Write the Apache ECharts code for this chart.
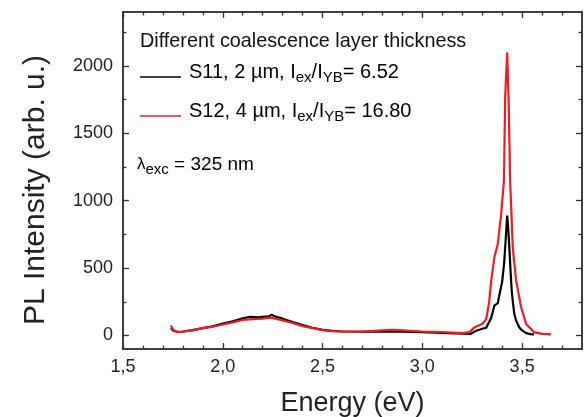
<!DOCTYPE html>
<html>
<head>
<meta charset="utf-8">
<script src="https://cdn.jsdelivr.net/npm/echarts@6/dist/echarts.min.js"></script>
<style>html,body{margin:0;padding:0;background:#fff}#c{width:585px;height:417px}</style>
</head>
<body>
<div id="c"></div>
<script>
// ---- data ----
const s11Energy = [1.74, 1.75, 1.77, 1.80, 1.85, 1.90, 1.95, 2.00, 2.05, 2.10, 2.14, 2.18, 2.21, 2.23, 2.245, 2.26, 2.30, 2.35, 2.40, 2.45, 2.50, 2.55, 2.60, 2.70, 2.80, 2.90, 3.00, 3.10, 3.20, 3.24, 3.27, 3.30, 3.32, 3.345, 3.361, 3.37, 3.378, 3.386, 3.40, 3.41, 3.418, 3.425, 3.43, 3.436, 3.442, 3.448, 3.455, 3.461, 3.47, 3.486, 3.50, 3.52, 3.54, 3.56];
const s11Intensity = [55, 38, 28, 30, 40, 55, 68, 88, 105, 128, 138, 135, 140, 140, 155, 142, 125, 100, 78, 58, 42, 35, 30, 28, 30, 28, 25, 20, 14, 12, 35, 50, 58, 130, 222, 230, 240, 300, 400, 540, 720, 889, 800, 650, 480, 330, 230, 160, 110, 60, 38, 18, 10, 8];
const s12Energy = [1.74, 1.75, 1.77, 1.80, 1.85, 1.90, 1.95, 2.00, 2.05, 2.10, 2.15, 2.20, 2.24, 2.28, 2.32, 2.36, 2.40, 2.45, 2.50, 2.55, 2.60, 2.70, 2.80, 2.85, 2.90, 3.00, 3.10, 3.20, 3.236, 3.262, 3.30, 3.32, 3.335, 3.345, 3.361, 3.378, 3.395, 3.409, 3.415, 3.425, 3.432, 3.44, 3.453, 3.47, 3.495, 3.52, 3.56, 3.60, 3.645];
const s12Intensity = [74, 45, 25, 28, 40, 55, 65, 82, 98, 115, 122, 125, 133, 120, 104, 88, 70, 55, 40, 33, 30, 30, 38, 42, 38, 30, 25, 18, 25, 62, 86, 120, 250, 407, 580, 679, 901, 1148, 1765, 2099, 1765, 1148, 654, 407, 210, 86, 25, 12, 8];
const xTicks = [1.5, 2.0, 2.5, 3.0, 3.5];
const xMinorTicks = [1.6, 1.7, 1.8, 1.9, 2.1, 2.2, 2.3, 2.4, 2.6, 2.7, 2.8, 2.9, 3.1, 3.2, 3.3, 3.4, 3.6, 3.7];
const yTicks = [0, 500, 1000, 1500, 2000];
const yMinorTicks = [250, 750, 1250, 1750, 2250];
const xRange = [1.5, 3.8];
const yRange = [-100, 2400];

const pairs = (xs, ys) => xs.map((x, i) => [x, ys[i]]);
const AX = '#333';
const chart = echarts.init(document.getElementById('c'), null, {renderer: 'canvas'});

function xAxisDef(pos, ticks, len, labels) {
  return {
    type: 'value', min: xRange[0], max: xRange[1], position: pos,
    axisLine: {show: true, onZero: false, lineStyle: {color: AX, width: 1.5}},
    axisTick: {show: true, inside: true, length: len, customValues: ticks, lineStyle: {color: AX, width: 1.3}},
    axisLabel: labels ? {show: true, customValues: ticks, formatter: v => v.toFixed(1).replace('.', ','), color: '#222', fontSize: 18, fontFamily: 'Liberation Sans', margin: 9} : {show: false},
    splitLine: {show: false},
    name: labels ? 'Energy (eV)' : '', nameLocation: 'middle', nameGap: 41,
    nameTextStyle: {fontSize: 27, color: '#222', fontFamily: 'Liberation Sans'}
  };
}
function yAxisDef(pos, ticks, len, labels) {
  return {
    type: 'value', min: yRange[0], max: yRange[1], position: pos,
    axisLine: {show: true, onZero: false, lineStyle: {color: AX, width: 1.5}},
    axisTick: {show: true, inside: true, length: len, customValues: ticks, lineStyle: {color: AX, width: 1.3}},
    axisLabel: labels ? {show: true, customValues: ticks, formatter: v => String(v), color: '#222', fontSize: 18, fontFamily: 'Liberation Sans', margin: 10} : {show: false},
    splitLine: {show: false},
    name: labels ? 'PL Intensity (arb. u.)' : '', nameLocation: 'middle', nameGap: 72, nameRotate: 90,
    nameTextStyle: {fontSize: 30, color: '#222', fontFamily: 'Liberation Sans', padding: [0, 19, 0, 0]}
  };
}

const subN = {fontSize: 20, fontFamily: 'Liberation Sans', color: '#111', lineHeight: 26};
const subS = {fontSize: 15, fontFamily: 'Liberation Sans', color: '#111', lineHeight: 15, verticalAlign: 'bottom'};

chart.setOption({
  animation: false,
  backgroundColor: '#fff',
  grid: {left: 123, top: 12, right: 3, bottom: 68, containLabel: false, outerBoundsMode: 'none'},
  xAxis: [
    xAxisDef('bottom', xTicks, 6, true),
    xAxisDef('bottom', xMinorTicks, 3.5, false),
    xAxisDef('top', xTicks, 6, false),
    xAxisDef('top', xMinorTicks, 3.5, false)
  ],
  yAxis: [
    yAxisDef('left', yTicks, 6, true),
    yAxisDef('left', yMinorTicks, 3.5, false),
    yAxisDef('right', yTicks, 6, false),
    yAxisDef('right', yMinorTicks, 3.5, false)
  ],
  series: [
    {name: 'S11', type: 'line', showSymbol: false, data: pairs(s11Energy, s11Intensity),
     lineStyle: {color: '#000', width: 2.2}, itemStyle: {color: '#000'}},
    {name: 'S12', type: 'line', showSymbol: false, data: pairs(s12Energy, s12Intensity),
     lineStyle: {color: '#ee1c25', width: 2.2}, itemStyle: {color: '#ee1c25'}}
  ],
  graphic: [
    {type: 'text', left: 140, top: 32, style: {text: 'Different coalescence layer thickness', fontSize: 19.8, fontFamily: 'Liberation Sans', fill: '#111'}},
    {type: 'line', shape: {x1: 140, y1: 77, x2: 181, y2: 77}, style: {stroke: '#000', lineWidth: 1.5}},
    {type: 'line', shape: {x1: 140, y1: 116, x2: 181, y2: 116}, style: {stroke: '#ee1c25', lineWidth: 1.5}},
    {type: 'text', left: 189, top: 62, style: {text: '{n|S11, 2 µm, I}{s|ex}{n|/I}{s|YB}{n|= 6.52}', rich: {n: subN, s: subS}}},
    {type: 'text', left: 189, top: 101, style: {text: '{n|S12, 4 µm, I}{s|ex}{n|/I}{s|YB}{n|= 16.80}', rich: {n: subN, s: subS}}},
    {type: 'text', left: 137, top: 155, style: {text: '{l|λ}{s|exc}{n| = 325 nm}', rich: {l: {fontSize: 17, fontFamily: 'Liberation Sans', color: '#111', lineHeight: 26}, n: {fontSize: 19, fontFamily: 'Liberation Sans', color: '#111', lineHeight: 26}, s: subS}}}
  ]
});
</script>
</body>
</html>
